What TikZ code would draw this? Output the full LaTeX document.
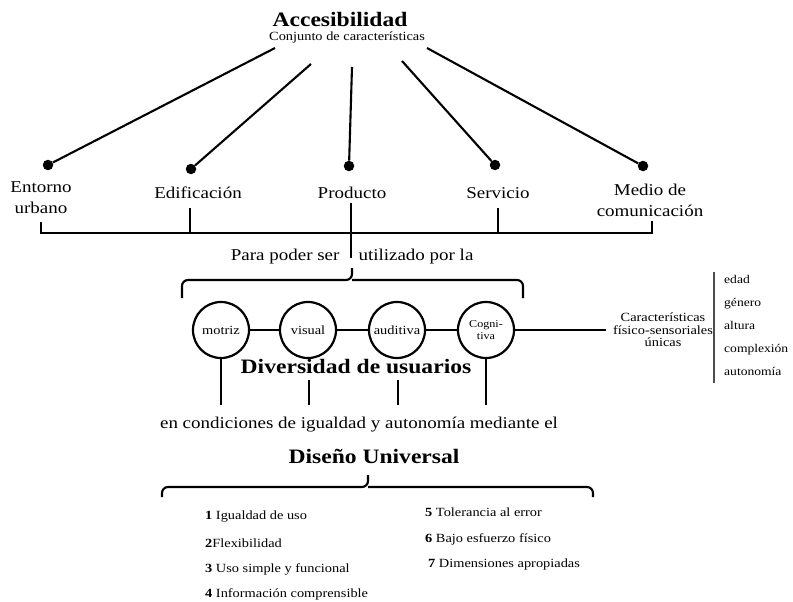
\documentclass[tikz,border=0pt]{standalone}
\usepackage{fontspec}
\setmainfont{Liberation Serif}[FakeStretch=1.15]
\usetikzlibrary{positioning}

\tikzset{
  mainline/.style={line width=2.1pt},
  thinline/.style={line width=1.4pt},
  dot/.style={circle, fill, inner sep=0pt, minimum size=10.5pt},
  user/.style={circle, draw, line width=2.2pt, minimum size=56pt, inner sep=0pt, align=center, font=\fontsize{12.5}{13}\selectfont},
  headline/.style={anchor=base, font=\bfseries\fontsize{20.5}{24}\selectfont},
  bigtext/.style={anchor=base, font=\fontsize{16.5}{21}\selectfont},
  smalltext/.style={anchor=base, font=\fontsize{12.5}{12.5}\selectfont},
}

\begin{document}
\begin{tikzpicture}[x=1pt, y=-1pt]
  \useasboundingbox (0,0) rectangle (793,602);

  % title
  \node[headline] (acc) at (340,27) {Accesibilidad};
  \node[smalltext] (conj) at (347,41) {Conjunto de características};

  % connectors to the five fields
  \coordinate (s1) at (275,48);
  \coordinate (s2) at (311,64);
  \coordinate (s3) at (352,67);
  \coordinate (s4) at (402,61);
  \coordinate (s5) at (427,48);
  \foreach \n/\x/\y in {1/48/165, 2/191/169, 3/349/166, 4/495/165, 5/643/166}
    \node[dot] (d\n) at (\x,\y) {};
  \foreach \n in {1,...,5}
    \draw[mainline] (s\n) -- (d\n);

  \node[bigtext, anchor=north, align=center, inner sep=0pt] (ent) at (41,181.5) {Entorno\\urbano};
  \node[bigtext] (edif) at (198,198) {Edificación};
  \node[bigtext] (prod) at (352,198) {Producto};
  \node[bigtext] (serv) at (498,198) {Servicio};
  \node[bigtext, anchor=north, align=center, inner sep=0pt] (medio) at (650,183.5) {Medio de\\comunicación};

  % bar under the fields
  \coordinate (b1) at (41,222);
  \coordinate (b2) at (190,208);
  \coordinate (b3) at (351,203);
  \coordinate (b4) at (498,208);
  \coordinate (b5) at (652,221);
  \coordinate (bl) at (41,233);
  \coordinate (br) at (652,233);
  \coordinate (b3e) at (351,258);
  \draw[mainline] (b1) -- (bl) -- (br) -- (b5);
  \draw[mainline] (b2) -- (b2 |- bl);
  \draw[mainline] (b4) -- (b4 |- bl);
  \draw[mainline] (b3) -- (b3e);

  \node[bigtext, anchor=base east] (para) at (343,260) {Para poder ser};
  \node[bigtext, anchor=base west] (util) at (355,260) {utilizado por la};

  % brace over the users
  \coordinate (u1) at (182,298);
  \coordinate (u2) at (523,298);
  \coordinate (um) at (352,280);
  \coordinate (ut) at (352,268);
  \draw[mainline, rounded corners=6pt] (u1) |- (um) -- (ut);
  \draw[mainline, rounded corners=6pt] (u2) |- (um);

  % users
  \node[user] (motriz) at (221,330) {motriz};
  \node[user] (visual) at (308,330) {visual};
  \node[user] (auditiva) at (397,330) {auditiva};
  \node[user, font=\fontsize{10.5}{12.5}\selectfont] (cogn) at (486,330) {Cogni-\\tiva};
  \node[smalltext, anchor=center, align=center, inner sep=7pt] (carac) at (663,330) {Características\\físico-sensoriales\\únicas};
  \draw[thinline] (motriz) -- (visual) -- (auditiva) -- (cogn) -- (carac.west);

  \coordinate (lt) at (714,272);
  \coordinate (lb) at (714,383);
  \draw[line width=1.6pt, black!70] (lt) -- (lb);
  \foreach \t/\y [count=\i] in {edad/283, género/306, altura/329, complexión/352, autonomía/375}
    \node[smalltext, anchor=base west, inner sep=0pt, font=\fontsize{11.8}{12}\selectfont] (f\i) at (724,\y) {\t};

  \node[headline] (div) at (356,373) {Diversidad de usuarios};

  \coordinate (m1) at (221,405);
  \coordinate (v1) at (309,380);
  \coordinate (a1) at (398,380);
  \draw[mainline] (motriz) -- (m1);
  \draw[mainline] (v1) -- (v1 |- m1);
  \draw[mainline] (a1) -- (a1 |- m1);
  \draw[mainline] (cogn) -- (cogn |- m1);

  \node[bigtext] (cond) at (359,428) {en condiciones de igualdad y autonomía mediante el};
  \node[headline] (du) at (374,463) {Diseño Universal};

  % brace over the principles
  \coordinate (p1) at (162,497);
  \coordinate (p2) at (593,497);
  \coordinate (pm) at (368,487);
  \coordinate (pt) at (368,475);
  \draw[mainline, rounded corners=6pt] (p1) |- (pm) -- (pt);
  \draw[mainline, rounded corners=6pt] (p2) |- (pm);

  % the seven principles
  \foreach \lab/\x/\y [count=\i] in {
      {\textbf{1} Igualdad de uso}/205/519,
      {\textbf{2}Flexibilidad}/205/547,
      {\textbf{3} Uso simple y funcional}/205/572,
      {\textbf{4} Información comprensible}/205/597,
      {\textbf{5} Tolerancia al error}/425/516,
      {\textbf{6} Bajo esfuerzo físico}/425/542,
      {\textbf{7} Dimensiones apropiadas}/428/567}
    \node[smalltext, anchor=base west, inner sep=0pt] (pr\i) at (\x,\y) {\lab};
\end{tikzpicture}
\end{document}
